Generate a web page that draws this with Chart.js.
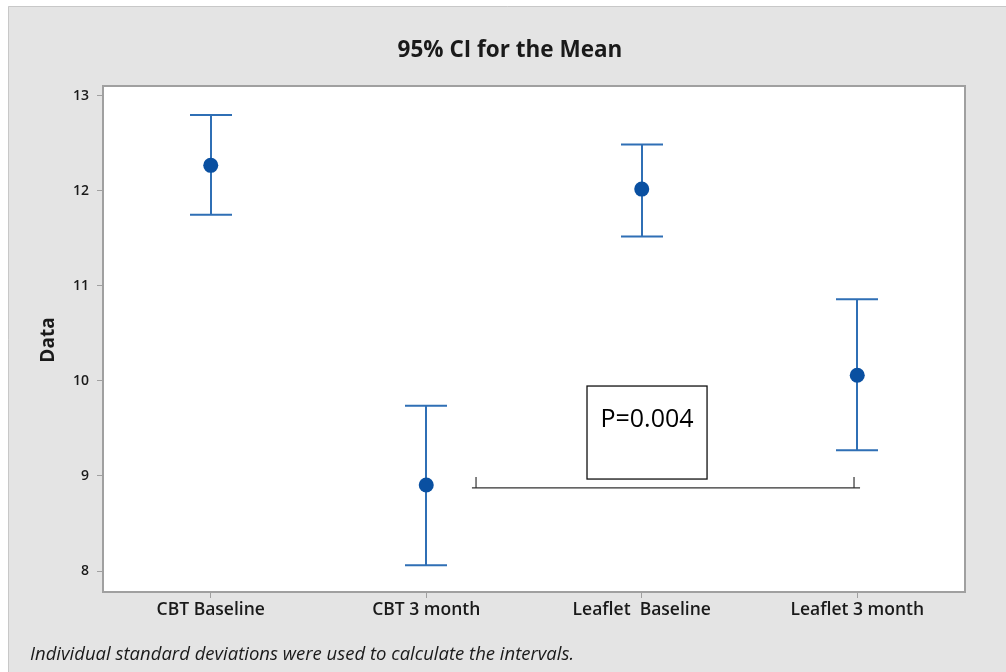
<!DOCTYPE html>
<html><head><meta charset="utf-8">
<script src="https://cdn.jsdelivr.net/npm/chart.js@4"></script>
<style>html,body{margin:0;padding:0;background:#fff;}canvas{display:block}</style>
</head><body>
<canvas id="c" width="1006" height="672"></canvas>
<script>
// ---- data ----
const categories = ['CBT Baseline', 'CBT 3 month', 'Leaflet  Baseline', 'Leaflet 3 month'];
const means = [12.27, 8.905, 12.02, 10.06];
const upperCI = [12.80, 9.74, 12.49, 10.86];
const lowerCI = [11.75, 8.06, 11.52, 9.27];
const yTicks = [8, 9, 10, 11, 12, 13];
const titleText = '95% CI for the Mean';
const yTitle = 'Data';
const footnote = 'Individual standard deviations were used to calculate the intervals.';
const pLabel = 'P=0.004';

// annotation placement (in axis units)
const annot = {
  box: { x0: 1.746, x1: 2.303, y0: 9.947, y1: 8.968 },
  bracket: { x0: 1.212, x1: 3.013, y: 8.874, t0: 1.231, t1: 2.985, tickTop: 8.99 }
};

const decor = {
  id: 'decor',
  beforeDraw(chart) {
    const { ctx, chartArea: a } = chart;
    ctx.save();
    ctx.fillStyle = '#ffffff';
    ctx.fillRect(0, 0, chart.width, chart.height);
    ctx.fillStyle = '#e4e4e4';
    ctx.fillRect(8, 6, chart.width - 8, chart.height - 6);
    ctx.strokeStyle = '#c8c8c8';
    ctx.lineWidth = 1;
    ctx.beginPath();
    ctx.moveTo(8.5, chart.height); ctx.lineTo(8.5, 6.5); ctx.lineTo(chart.width, 6.5);
    ctx.stroke();
    ctx.fillStyle = '#ffffff';
    ctx.fillRect(a.left, a.top, a.right - a.left, a.bottom - a.top);
    // title
    ctx.fillStyle = '#1a1a1a';
    ctx.font = 'bold 22.5px "Open Sans"';
    ctx.textAlign = 'center';
    ctx.textBaseline = 'middle';
    ctx.fillText(titleText, 510, 51);
    // y title
    ctx.save();
    ctx.translate(49, 340);
    ctx.rotate(-Math.PI / 2);
    ctx.font = 'bold 19px "Open Sans"';
    ctx.fillText(yTitle, 0, 0);
    ctx.restore();
    // footnote
    ctx.font = 'italic 18.5px "Open Sans"';
    ctx.textAlign = 'left';
    ctx.fillStyle = '#1a1a1a';
    ctx.fillText(footnote, 30, 655);
    ctx.restore();
  },
  beforeDatasetsDraw(chart) {
    const { ctx, chartArea: a, scales: { x, y } } = chart;
    ctx.save();
    ctx.strokeStyle = '#a0a0a0';
    ctx.lineWidth = 2;
    ctx.strokeRect(a.left, a.top, a.right - a.left, a.bottom - a.top);
    ctx.strokeStyle = '#2f6fb5';
    ctx.lineWidth = 2;
    const cap = 21;
    for (let i = 0; i < means.length; i++) {
      const px = Math.round(x.getPixelForValue(i));
      const yu = y.getPixelForValue(upperCI[i]);
      const yl = y.getPixelForValue(lowerCI[i]);
      ctx.beginPath();
      ctx.moveTo(px, yu); ctx.lineTo(px, yl);
      ctx.moveTo(px - cap, yu); ctx.lineTo(px + cap, yu);
      ctx.moveTo(px - cap, yl); ctx.lineTo(px + cap, yl);
      ctx.stroke();
    }
    ctx.restore();
  },
  afterDatasetsDraw(chart) {
    const { ctx, scales: { x, y } } = chart;
    ctx.save();
    const b = annot.box;
    const bx0 = x.getPixelForValue(b.x0), bx1 = x.getPixelForValue(b.x1);
    const by0 = y.getPixelForValue(b.y0), by1 = y.getPixelForValue(b.y1);
    ctx.fillStyle = '#ffffff';
    ctx.fillRect(bx0, by0, bx1 - bx0, by1 - by0);
    ctx.strokeStyle = '#111';
    ctx.lineWidth = 1.3;
    ctx.strokeRect(bx0, by0, bx1 - bx0, by1 - by0);
    ctx.fillStyle = '#000';
    ctx.font = '25px "Open Sans"';
    ctx.textAlign = 'center';
    ctx.textBaseline = 'alphabetic';
    ctx.fillText(pLabel, (bx0 + bx1) / 2, by0 + 41);
    const k = annot.bracket;
    const ly = y.getPixelForValue(k.y), ty = y.getPixelForValue(k.tickTop);
    ctx.strokeStyle = '#333';
    ctx.lineWidth = 1.2;
    ctx.beginPath();
    ctx.moveTo(x.getPixelForValue(k.x0), ly); ctx.lineTo(x.getPixelForValue(k.x1), ly);
    ctx.moveTo(x.getPixelForValue(k.t0), ly); ctx.lineTo(x.getPixelForValue(k.t0), ty);
    ctx.moveTo(x.getPixelForValue(k.t1), ly); ctx.lineTo(x.getPixelForValue(k.t1), ty);
    ctx.stroke();
    ctx.restore();
  }
};

new Chart(document.getElementById('c'), {
  type: 'line',
  data: {
    labels: categories,
    datasets: [{
      data: means,
      showLine: false,
      pointRadius: 7.5,
      pointHoverRadius: 7.5,
      pointBackgroundColor: '#0a50a1',
      pointBorderColor: '#0a50a1',
      pointBorderWidth: 0
    }]
  },
  options: {
    responsive: false,
    animation: false,
    devicePixelRatio: 1,
    layout: { padding: { top: 86, right: 41, left: 0, bottom: 0 } },
    plugins: { legend: { display: false }, tooltip: { enabled: false }, title: { display: false } },
    scales: {
      x: {
        type: 'category',
        offset: true,
        grid: { drawOnChartArea: false, tickLength: 6, color: '#a0a0a0', offset: false },
        border: { display: false },
        ticks: { font: { family: 'Open Sans', size: 17.5, weight: '600' }, color: '#1a1a1a', padding: 2, maxRotation: 0, autoSkip: false },
        afterFit: a => { a.height = 80; }
      },
      y: {
        min: 7.779,
        max: 13.105,
        afterBuildTicks: axis => { axis.ticks = yTicks.map(v => ({ value: v })); },
        grid: { drawOnChartArea: false, tickLength: 6, color: '#a0a0a0' },
        border: { display: false },
        ticks: { font: { family: 'Open Sans', size: 14, weight: '600' }, color: '#1a1a1a', padding: 8 },
        afterFit: a => { a.width = 103; }
      }
    }
  },
  plugins: [decor]
});
</script>
</body></html>
